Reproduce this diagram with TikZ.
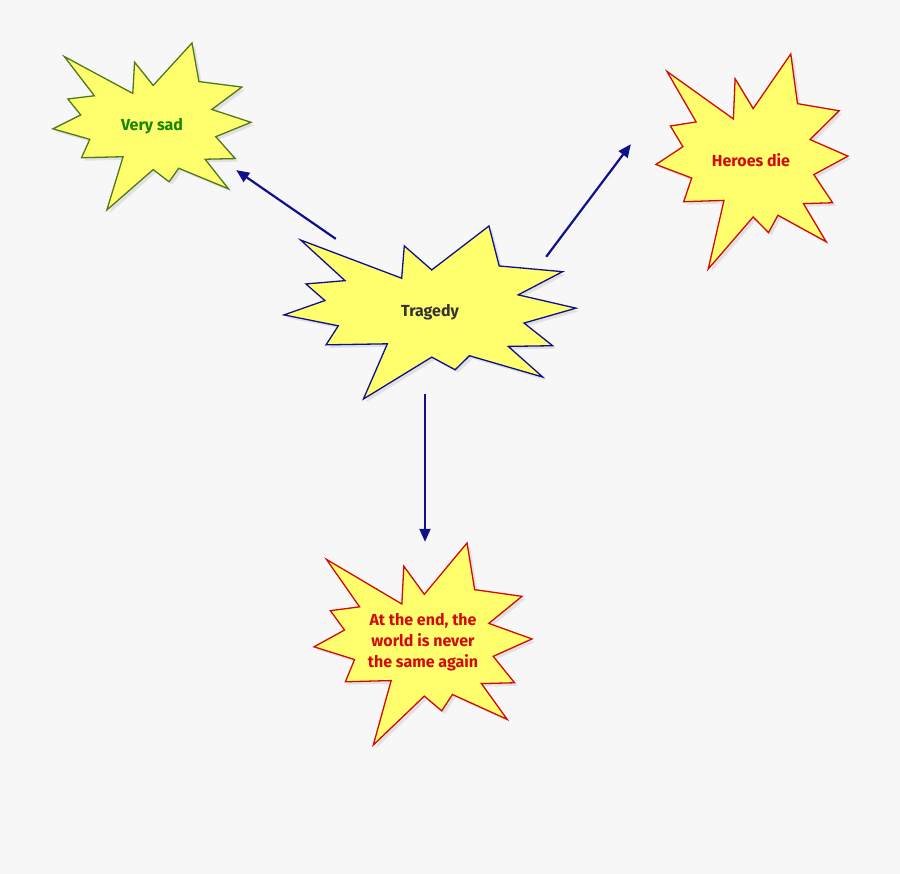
\documentclass[tikz,border=0pt]{standalone}
\usepackage{fontspec}
\setmainfont{Fira Sans}
\usetikzlibrary{arrows.meta,shadows}
\definecolor{bgcol}{RGB}{247,247,247}
\definecolor{burstfill}{RGB}{255,255,110}
\definecolor{navyline}{RGB}{16,16,140}
\definecolor{redline}{RGB}{212,10,10}
\definecolor{greenline}{RGB}{80,120,30}
\definecolor{greentext}{RGB}{20,135,0}
\tikzset{
    burstline/.style={fill=burstfill, line width=1.3pt, line join=miter,
        drop shadow={opacity=0.18, shadow xshift=3pt, shadow yshift=-3pt}},
    bursttext/.style={font=\fontsize{16}{21}\selectfont\bfseries, align=center, inner sep=0pt},
    link/.style={draw=navyline, line width=2.2pt, -{Triangle[length=13pt,width=11pt]},
        drop shadow={opacity=0.12, shadow xshift=3pt, shadow yshift=-3pt}},
    empty/.style={draw=none, fill=none, minimum size=0mm, inner sep=0mm}
}
% #1 left, #2 top, #3 width, #4 height, #5 border colour
\newcommand{\burst}[5]{%
    \draw[burstline, draw=#5, shift={(#1,#2)}, xscale=#3, yscale=#4]
        (0.057,0.081) -- (0.403,0.302) -- (0.412,0.115) -- (0.506,0.254)
        -- (0.702,0) -- (0.737,0.231) -- (0.954,0.264) -- (0.802,0.398)
        -- (1,0.475) -- (0.822,0.561) -- (0.920,0.692) -- (0.768,0.696)
        -- (0.886,0.873) -- (0.635,0.750) -- (0.586,0.831) -- (0.506,0.758)
        -- (0.272,1) -- (0.354,0.681) -- (0.144,0.687) -- (0.186,0.577)
        -- (0,0.514) -- (0.140,0.431) -- (0.075,0.335) -- (0.209,0.316) -- cycle;}
\begin{document}
\begin{tikzpicture}[x=1pt, y=-1pt]
    \fill[bgcol] (0,0) rectangle (900,874);

    \burst{53}{43}{198}{167}{greenline}
    \burst{656}{54}{192}{215}{redline}
    \burst{284}{226}{292}{173}{navyline}
    \burst{314}{543}{218}{202}{redline}

    \node (sad) [bursttext, text=greentext] at (152,126) {Very sad};
    \node (heroes) [bursttext, text=redline] at (751,160) {Heroes die};
    \node (tragedy) [bursttext, text=black!80] at (430,312) {Tragedy};
    \node (end) [bursttext, text=redline] at (423,642) {At the end, the\\world is never\\the same again};

    \node (t1) [empty] at (336,239) {};
    \node (s1) [empty] at (236,170) {};
    \node (t2) [empty] at (546,257) {};
    \node (h1) [empty] at (631,144) {};
    \node (t3) [empty] at (425,394) {};
    \node (e1) [empty] at (425,542) {};

    \draw[link] (t1) -- (s1);
    \draw[link] (t2) -- (h1);
    \draw[link] (t3) -- (e1);
\end{tikzpicture}
\end{document}
